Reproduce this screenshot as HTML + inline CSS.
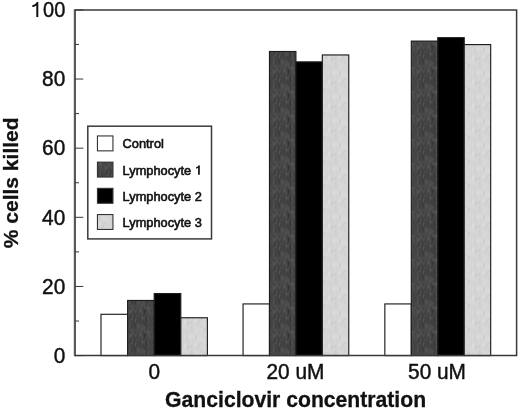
<!DOCTYPE html>
<html><head><meta charset="utf-8"><style>
html,body{margin:0;padding:0;background:#fff;}
svg{display:block;filter:grayscale(1);}
text{font-family:"Liberation Sans",sans-serif;fill:#111;}
.tl{font-size:21.5px;stroke:#111;stroke-width:0.45px;}
.ax{font-weight:bold;stroke:#111;stroke-width:0.3px;}
.lg{font-size:12.8px;stroke:#111;stroke-width:0.6px;}
.one{fill:#111;}
</style></head><body>
<svg width="520" height="408" viewBox="0 0 520 408">
<defs>
<pattern id="pL1" width="24" height="24" patternUnits="userSpaceOnUse">
<rect width="24" height="24" fill="#464646"/>
<rect x="0" y="0" width="1" height="1" fill="#393939"/>
<rect x="1" y="0" width="1" height="1" fill="#3d3d3d"/>
<rect x="4" y="0" width="2" height="1" fill="#4d4d4d"/>
<rect x="6" y="0" width="1" height="1" fill="#4b4b4b"/>
<rect x="7" y="0" width="1" height="1" fill="#454545"/>
<rect x="8" y="0" width="1" height="1" fill="#494949"/>
<rect x="9" y="0" width="1" height="1" fill="#535353"/>
<rect x="10" y="0" width="1" height="1" fill="#515151"/>
<rect x="11" y="0" width="1" height="1" fill="#4d4d4d"/>
<rect x="12" y="0" width="1" height="1" fill="#424242"/>
<rect x="13" y="0" width="1" height="1" fill="#404040"/>
<rect x="14" y="0" width="1" height="1" fill="#444444"/>
<rect x="15" y="0" width="1" height="1" fill="#4c4c4c"/>
<rect x="16" y="0" width="1" height="1" fill="#444444"/>
<rect x="17" y="0" width="1" height="1" fill="#3d3d3d"/>
<rect x="18" y="0" width="1" height="1" fill="#434343"/>
<rect x="19" y="0" width="2" height="1" fill="#484848"/>
<rect x="21" y="0" width="2" height="1" fill="#4b4b4b"/>
<rect x="23" y="0" width="1" height="1" fill="#414141"/>
<rect x="0" y="1" width="1" height="1" fill="#393939"/>
<rect x="1" y="1" width="1" height="1" fill="#404040"/>
<rect x="2" y="1" width="1" height="1" fill="#454545"/>
<rect x="3" y="1" width="1" height="1" fill="#434343"/>
<rect x="4" y="1" width="2" height="1" fill="#4a4a4a"/>
<rect x="6" y="1" width="1" height="1" fill="#4e4e4e"/>
<rect x="7" y="1" width="1" height="1" fill="#444444"/>
<rect x="8" y="1" width="1" height="1" fill="#4a4a4a"/>
<rect x="9" y="1" width="1" height="1" fill="#525252"/>
<rect x="10" y="1" width="2" height="1" fill="#494949"/>
<rect x="12" y="1" width="1" height="1" fill="#424242"/>
<rect x="13" y="1" width="1" height="1" fill="#3e3e3e"/>
<rect x="14" y="1" width="1" height="1" fill="#404040"/>
<rect x="15" y="1" width="1" height="1" fill="#454545"/>
<rect x="16" y="1" width="1" height="1" fill="#414141"/>
<rect x="17" y="1" width="1" height="1" fill="#3f3f3f"/>
<rect x="18" y="1" width="2" height="1" fill="#444444"/>
<rect x="20" y="1" width="1" height="1" fill="#424242"/>
<rect x="21" y="1" width="1" height="1" fill="#494949"/>
<rect x="22" y="1" width="1" height="1" fill="#4e4e4e"/>
<rect x="23" y="1" width="1" height="1" fill="#424242"/>
<rect x="0" y="2" width="1" height="1" fill="#3d3d3d"/>
<rect x="1" y="2" width="3" height="1" fill="#454545"/>
<rect x="4" y="2" width="2" height="1" fill="#474747"/>
<rect x="6" y="2" width="1" height="1" fill="#4b4b4b"/>
<rect x="7" y="2" width="1" height="1" fill="#434343"/>
<rect x="8" y="2" width="2" height="1" fill="#4c4c4c"/>
<rect x="10" y="2" width="1" height="1" fill="#3f3f3f"/>
<rect x="11" y="2" width="1" height="1" fill="#414141"/>
<rect x="12" y="2" width="1" height="1" fill="#474747"/>
<rect x="13" y="2" width="1" height="1" fill="#434343"/>
<rect x="14" y="2" width="1" height="1" fill="#3e3e3e"/>
<rect x="15" y="2" width="1" height="1" fill="#414141"/>
<rect x="16" y="2" width="2" height="1" fill="#434343"/>
<rect x="18" y="2" width="1" height="1" fill="#494949"/>
<rect x="20" y="2" width="1" height="1" fill="#3f3f3f"/>
<rect x="21" y="2" width="1" height="1" fill="#484848"/>
<rect x="22" y="2" width="1" height="1" fill="#4d4d4d"/>
<rect x="23" y="2" width="1" height="1" fill="#3f3f3f"/>
<rect x="0" y="3" width="1" height="1" fill="#414141"/>
<rect x="2" y="3" width="1" height="1" fill="#434343"/>
<rect x="3" y="3" width="2" height="1" fill="#484848"/>
<rect x="5" y="3" width="1" height="1" fill="#424242"/>
<rect x="8" y="3" width="1" height="1" fill="#4e4e4e"/>
<rect x="9" y="3" width="1" height="1" fill="#494949"/>
<rect x="10" y="3" width="1" height="1" fill="#383838"/>
<rect x="11" y="3" width="1" height="1" fill="#3c3c3c"/>
<rect x="12" y="3" width="1" height="1" fill="#4c4c4c"/>
<rect x="13" y="3" width="1" height="1" fill="#484848"/>
<rect x="14" y="3" width="1" height="1" fill="#3e3e3e"/>
<rect x="15" y="3" width="1" height="1" fill="#414141"/>
<rect x="17" y="3" width="1" height="1" fill="#494949"/>
<rect x="18" y="3" width="1" height="1" fill="#4b4b4b"/>
<rect x="20" y="3" width="1" height="1" fill="#3f3f3f"/>
<rect x="21" y="3" width="1" height="1" fill="#484848"/>
<rect x="22" y="3" width="1" height="1" fill="#4a4a4a"/>
<rect x="23" y="3" width="1" height="1" fill="#3e3e3e"/>
<rect x="0" y="4" width="1" height="1" fill="#474747"/>
<rect x="1" y="4" width="1" height="1" fill="#414141"/>
<rect x="2" y="4" width="1" height="1" fill="#3b3b3b"/>
<rect x="3" y="4" width="1" height="1" fill="#494949"/>
<rect x="4" y="4" width="1" height="1" fill="#4b4b4b"/>
<rect x="5" y="4" width="2" height="1" fill="#424242"/>
<rect x="7" y="4" width="1" height="1" fill="#484848"/>
<rect x="8" y="4" width="1" height="1" fill="#4b4b4b"/>
<rect x="9" y="4" width="1" height="1" fill="#454545"/>
<rect x="10" y="4" width="1" height="1" fill="#3a3a3a"/>
<rect x="11" y="4" width="1" height="1" fill="#3f3f3f"/>
<rect x="12" y="4" width="1" height="1" fill="#4d4d4d"/>
<rect x="13" y="4" width="1" height="1" fill="#494949"/>
<rect x="14" y="4" width="1" height="1" fill="#3e3e3e"/>
<rect x="15" y="4" width="1" height="1" fill="#424242"/>
<rect x="16" y="4" width="2" height="1" fill="#474747"/>
<rect x="18" y="4" width="1" height="1" fill="#494949"/>
<rect x="19" y="4" width="1" height="1" fill="#434343"/>
<rect x="20" y="4" width="1" height="1" fill="#404040"/>
<rect x="21" y="4" width="1" height="1" fill="#4b4b4b"/>
<rect x="22" y="4" width="1" height="1" fill="#494949"/>
<rect x="23" y="4" width="1" height="1" fill="#434343"/>
<rect x="0" y="5" width="1" height="1" fill="#4b4b4b"/>
<rect x="1" y="5" width="1" height="1" fill="#3d3d3d"/>
<rect x="2" y="5" width="1" height="1" fill="#373737"/>
<rect x="3" y="5" width="1" height="1" fill="#4a4a4a"/>
<rect x="4" y="5" width="1" height="1" fill="#505050"/>
<rect x="5" y="5" width="2" height="1" fill="#414141"/>
<rect x="7" y="5" width="1" height="1" fill="#474747"/>
<rect x="8" y="5" width="1" height="1" fill="#444444"/>
<rect x="9" y="5" width="2" height="1" fill="#3f3f3f"/>
<rect x="11" y="5" width="1" height="1" fill="#474747"/>
<rect x="12" y="5" width="1" height="1" fill="#494949"/>
<rect x="13" y="5" width="1" height="1" fill="#454545"/>
<rect x="14" y="5" width="1" height="1" fill="#3c3c3c"/>
<rect x="15" y="5" width="1" height="1" fill="#444444"/>
<rect x="16" y="5" width="1" height="1" fill="#484848"/>
<rect x="17" y="5" width="2" height="1" fill="#434343"/>
<rect x="19" y="5" width="1" height="1" fill="#404040"/>
<rect x="20" y="5" width="1" height="1" fill="#424242"/>
<rect x="21" y="5" width="1" height="1" fill="#4f4f4f"/>
<rect x="22" y="5" width="1" height="1" fill="#4d4d4d"/>
<rect x="23" y="5" width="1" height="1" fill="#4a4a4a"/>
<rect x="0" y="6" width="1" height="1" fill="#4a4a4a"/>
<rect x="1" y="6" width="2" height="1" fill="#3c3c3c"/>
<rect x="3" y="6" width="1" height="1" fill="#494949"/>
<rect x="4" y="6" width="1" height="1" fill="#4e4e4e"/>
<rect x="5" y="6" width="2" height="1" fill="#414141"/>
<rect x="7" y="6" width="1" height="1" fill="#454545"/>
<rect x="8" y="6" width="1" height="1" fill="#404040"/>
<rect x="9" y="6" width="1" height="1" fill="#3d3d3d"/>
<rect x="10" y="6" width="1" height="1" fill="#454545"/>
<rect x="11" y="6" width="1" height="1" fill="#4f4f4f"/>
<rect x="12" y="6" width="1" height="1" fill="#474747"/>
<rect x="13" y="6" width="1" height="1" fill="#424242"/>
<rect x="14" y="6" width="1" height="1" fill="#3c3c3c"/>
<rect x="15" y="6" width="2" height="1" fill="#4b4b4b"/>
<rect x="17" y="6" width="2" height="1" fill="#3f3f3f"/>
<rect x="19" y="6" width="2" height="1" fill="#414141"/>
<rect x="21" y="6" width="3" height="1" fill="#4e4e4e"/>
<rect x="1" y="7" width="1" height="1" fill="#3b3b3b"/>
<rect x="2" y="7" width="1" height="1" fill="#3e3e3e"/>
<rect x="3" y="7" width="1" height="1" fill="#454545"/>
<rect x="4" y="7" width="1" height="1" fill="#4b4b4b"/>
<rect x="5" y="7" width="1" height="1" fill="#454545"/>
<rect x="6" y="7" width="1" height="1" fill="#414141"/>
<rect x="7" y="7" width="2" height="1" fill="#444444"/>
<rect x="9" y="7" width="1" height="1" fill="#424242"/>
<rect x="11" y="7" width="1" height="1" fill="#505050"/>
<rect x="13" y="7" width="1" height="1" fill="#414141"/>
<rect x="14" y="7" width="1" height="1" fill="#3e3e3e"/>
<rect x="15" y="7" width="1" height="1" fill="#545454"/>
<rect x="16" y="7" width="1" height="1" fill="#4c4c4c"/>
<rect x="17" y="7" width="1" height="1" fill="#3d3d3d"/>
<rect x="18" y="7" width="3" height="1" fill="#404040"/>
<rect x="21" y="7" width="1" height="1" fill="#484848"/>
<rect x="22" y="7" width="2" height="1" fill="#4a4a4a"/>
<rect x="0" y="8" width="1" height="1" fill="#434343"/>
<rect x="1" y="8" width="1" height="1" fill="#3a3a3a"/>
<rect x="2" y="8" width="1" height="1" fill="#3f3f3f"/>
<rect x="3" y="8" width="1" height="1" fill="#414141"/>
<rect x="4" y="8" width="1" height="1" fill="#4b4b4b"/>
<rect x="5" y="8" width="1" height="1" fill="#484848"/>
<rect x="6" y="8" width="1" height="1" fill="#414141"/>
<rect x="7" y="8" width="1" height="1" fill="#434343"/>
<rect x="8" y="8" width="2" height="1" fill="#494949"/>
<rect x="10" y="8" width="1" height="1" fill="#434343"/>
<rect x="11" y="8" width="1" height="1" fill="#4b4b4b"/>
<rect x="12" y="8" width="1" height="1" fill="#434343"/>
<rect x="13" y="8" width="1" height="1" fill="#3f3f3f"/>
<rect x="14" y="8" width="1" height="1" fill="#424242"/>
<rect x="15" y="8" width="1" height="1" fill="#545454"/>
<rect x="17" y="8" width="1" height="1" fill="#3b3b3b"/>
<rect x="18" y="8" width="1" height="1" fill="#444444"/>
<rect x="19" y="8" width="1" height="1" fill="#424242"/>
<rect x="20" y="8" width="1" height="1" fill="#3c3c3c"/>
<rect x="21" y="8" width="1" height="1" fill="#444444"/>
<rect x="22" y="8" width="2" height="1" fill="#424242"/>
<rect x="0" y="9" width="1" height="1" fill="#414141"/>
<rect x="1" y="9" width="1" height="1" fill="#3c3c3c"/>
<rect x="2" y="9" width="2" height="1" fill="#3f3f3f"/>
<rect x="4" y="9" width="1" height="1" fill="#4c4c4c"/>
<rect x="5" y="9" width="1" height="1" fill="#484848"/>
<rect x="6" y="9" width="1" height="1" fill="#404040"/>
<rect x="7" y="9" width="1" height="1" fill="#434343"/>
<rect x="8" y="9" width="1" height="1" fill="#474747"/>
<rect x="9" y="9" width="1" height="1" fill="#494949"/>
<rect x="10" y="9" width="1" height="1" fill="#414141"/>
<rect x="12" y="9" width="1" height="1" fill="#424242"/>
<rect x="13" y="9" width="1" height="1" fill="#3e3e3e"/>
<rect x="14" y="9" width="1" height="1" fill="#444444"/>
<rect x="15" y="9" width="1" height="1" fill="#4d4d4d"/>
<rect x="16" y="9" width="1" height="1" fill="#414141"/>
<rect x="17" y="9" width="1" height="1" fill="#3b3b3b"/>
<rect x="18" y="9" width="1" height="1" fill="#474747"/>
<rect x="19" y="9" width="1" height="1" fill="#434343"/>
<rect x="20" y="9" width="1" height="1" fill="#3c3c3c"/>
<rect x="21" y="9" width="1" height="1" fill="#454545"/>
<rect x="22" y="9" width="1" height="1" fill="#3c3c3c"/>
<rect x="23" y="9" width="1" height="1" fill="#3a3a3a"/>
<rect x="0" y="10" width="1" height="1" fill="#404040"/>
<rect x="1" y="10" width="1" height="1" fill="#3d3d3d"/>
<rect x="2" y="10" width="2" height="1" fill="#414141"/>
<rect x="4" y="10" width="1" height="1" fill="#4e4e4e"/>
<rect x="5" y="10" width="1" height="1" fill="#454545"/>
<rect x="6" y="10" width="1" height="1" fill="#3e3e3e"/>
<rect x="7" y="10" width="1" height="1" fill="#434343"/>
<rect x="8" y="10" width="1" height="1" fill="#414141"/>
<rect x="9" y="10" width="1" height="1" fill="#4d4d4d"/>
<rect x="10" y="10" width="3" height="1" fill="#444444"/>
<rect x="13" y="10" width="1" height="1" fill="#3f3f3f"/>
<rect x="14" y="10" width="1" height="1" fill="#424242"/>
<rect x="15" y="10" width="1" height="1" fill="#474747"/>
<rect x="16" y="10" width="1" height="1" fill="#424242"/>
<rect x="17" y="10" width="1" height="1" fill="#3f3f3f"/>
<rect x="18" y="10" width="1" height="1" fill="#494949"/>
<rect x="19" y="10" width="1" height="1" fill="#454545"/>
<rect x="20" y="10" width="1" height="1" fill="#3e3e3e"/>
<rect x="21" y="10" width="1" height="1" fill="#474747"/>
<rect x="22" y="10" width="1" height="1" fill="#3d3d3d"/>
<rect x="23" y="10" width="1" height="1" fill="#3a3a3a"/>
<rect x="0" y="11" width="1" height="1" fill="#3f3f3f"/>
<rect x="1" y="11" width="1" height="1" fill="#3c3c3c"/>
<rect x="2" y="11" width="1" height="1" fill="#404040"/>
<rect x="3" y="11" width="1" height="1" fill="#454545"/>
<rect x="4" y="11" width="1" height="1" fill="#4d4d4d"/>
<rect x="5" y="11" width="1" height="1" fill="#434343"/>
<rect x="6" y="11" width="1" height="1" fill="#3f3f3f"/>
<rect x="7" y="11" width="1" height="1" fill="#444444"/>
<rect x="8" y="11" width="1" height="1" fill="#3f3f3f"/>
<rect x="9" y="11" width="1" height="1" fill="#515151"/>
<rect x="10" y="11" width="1" height="1" fill="#494949"/>
<rect x="11" y="11" width="1" height="1" fill="#424242"/>
<rect x="12" y="11" width="1" height="1" fill="#454545"/>
<rect x="13" y="11" width="1" height="1" fill="#404040"/>
<rect x="14" y="11" width="1" height="1" fill="#3d3d3d"/>
<rect x="15" y="11" width="1" height="1" fill="#444444"/>
<rect x="18" y="11" width="1" height="1" fill="#4c4c4c"/>
<rect x="19" y="11" width="1" height="1" fill="#484848"/>
<rect x="20" y="11" width="1" height="1" fill="#424242"/>
<rect x="21" y="11" width="1" height="1" fill="#484848"/>
<rect x="22" y="11" width="1" height="1" fill="#424242"/>
<rect x="23" y="11" width="1" height="1" fill="#404040"/>
<rect x="0" y="12" width="1" height="1" fill="#3f3f3f"/>
<rect x="1" y="12" width="1" height="1" fill="#3c3c3c"/>
<rect x="2" y="12" width="1" height="1" fill="#3f3f3f"/>
<rect x="4" y="12" width="1" height="1" fill="#484848"/>
<rect x="5" y="12" width="1" height="1" fill="#444444"/>
<rect x="6" y="12" width="1" height="1" fill="#404040"/>
<rect x="8" y="12" width="1" height="1" fill="#414141"/>
<rect x="9" y="12" width="1" height="1" fill="#4f4f4f"/>
<rect x="10" y="12" width="1" height="1" fill="#4b4b4b"/>
<rect x="11" y="12" width="1" height="1" fill="#414141"/>
<rect x="12" y="12" width="1" height="1" fill="#434343"/>
<rect x="13" y="12" width="1" height="1" fill="#404040"/>
<rect x="14" y="12" width="1" height="1" fill="#3b3b3b"/>
<rect x="15" y="12" width="1" height="1" fill="#404040"/>
<rect x="16" y="12" width="1" height="1" fill="#474747"/>
<rect x="17" y="12" width="1" height="1" fill="#4a4a4a"/>
<rect x="18" y="12" width="1" height="1" fill="#515151"/>
<rect x="19" y="12" width="1" height="1" fill="#4a4a4a"/>
<rect x="20" y="12" width="4" height="1" fill="#474747"/>
<rect x="0" y="13" width="2" height="1" fill="#434343"/>
<rect x="2" y="13" width="1" height="1" fill="#3c3c3c"/>
<rect x="3" y="13" width="2" height="1" fill="#434343"/>
<rect x="5" y="13" width="1" height="1" fill="#454545"/>
<rect x="6" y="13" width="1" height="1" fill="#3f3f3f"/>
<rect x="9" y="13" width="1" height="1" fill="#4b4b4b"/>
<rect x="10" y="13" width="1" height="1" fill="#494949"/>
<rect x="11" y="13" width="1" height="1" fill="#3e3e3e"/>
<rect x="12" y="13" width="1" height="1" fill="#404040"/>
<rect x="13" y="13" width="1" height="1" fill="#424242"/>
<rect x="14" y="13" width="2" height="1" fill="#3b3b3b"/>
<rect x="16" y="13" width="1" height="1" fill="#474747"/>
<rect x="17" y="13" width="1" height="1" fill="#4f4f4f"/>
<rect x="18" y="13" width="1" height="1" fill="#525252"/>
<rect x="19" y="13" width="1" height="1" fill="#4b4b4b"/>
<rect x="20" y="13" width="1" height="1" fill="#494949"/>
<rect x="21" y="13" width="1" height="1" fill="#454545"/>
<rect x="22" y="13" width="2" height="1" fill="#4a4a4a"/>
<rect x="0" y="14" width="2" height="1" fill="#494949"/>
<rect x="2" y="14" width="1" height="1" fill="#3c3c3c"/>
<rect x="3" y="14" width="2" height="1" fill="#424242"/>
<rect x="5" y="14" width="1" height="1" fill="#474747"/>
<rect x="6" y="14" width="1" height="1" fill="#414141"/>
<rect x="7" y="14" width="1" height="1" fill="#444444"/>
<rect x="8" y="14" width="1" height="1" fill="#484848"/>
<rect x="9" y="14" width="1" height="1" fill="#4c4c4c"/>
<rect x="10" y="14" width="1" height="1" fill="#4a4a4a"/>
<rect x="11" y="14" width="1" height="1" fill="#3b3b3b"/>
<rect x="12" y="14" width="1" height="1" fill="#404040"/>
<rect x="13" y="14" width="1" height="1" fill="#474747"/>
<rect x="14" y="14" width="1" height="1" fill="#3c3c3c"/>
<rect x="15" y="14" width="1" height="1" fill="#3a3a3a"/>
<rect x="16" y="14" width="1" height="1" fill="#484848"/>
<rect x="17" y="14" width="2" height="1" fill="#4f4f4f"/>
<rect x="19" y="14" width="1" height="1" fill="#4c4c4c"/>
<rect x="20" y="14" width="1" height="1" fill="#4a4a4a"/>
<rect x="21" y="14" width="1" height="1" fill="#474747"/>
<rect x="22" y="14" width="1" height="1" fill="#4c4c4c"/>
<rect x="23" y="14" width="1" height="1" fill="#4a4a4a"/>
<rect x="0" y="15" width="1" height="1" fill="#4c4c4c"/>
<rect x="1" y="15" width="1" height="1" fill="#494949"/>
<rect x="2" y="15" width="1" height="1" fill="#3d3d3d"/>
<rect x="5" y="15" width="1" height="1" fill="#494949"/>
<rect x="6" y="15" width="2" height="1" fill="#454545"/>
<rect x="8" y="15" width="1" height="1" fill="#494949"/>
<rect x="9" y="15" width="2" height="1" fill="#4d4d4d"/>
<rect x="11" y="15" width="1" height="1" fill="#3a3a3a"/>
<rect x="12" y="15" width="1" height="1" fill="#414141"/>
<rect x="13" y="15" width="1" height="1" fill="#4a4a4a"/>
<rect x="14" y="15" width="2" height="1" fill="#3d3d3d"/>
<rect x="17" y="15" width="2" height="1" fill="#4b4b4b"/>
<rect x="19" y="15" width="1" height="1" fill="#4d4d4d"/>
<rect x="20" y="15" width="1" height="1" fill="#494949"/>
<rect x="21" y="15" width="1" height="1" fill="#4c4c4c"/>
<rect x="22" y="15" width="1" height="1" fill="#4f4f4f"/>
<rect x="23" y="15" width="1" height="1" fill="#4c4c4c"/>
<rect x="0" y="16" width="1" height="1" fill="#4c4c4c"/>
<rect x="1" y="16" width="1" height="1" fill="#454545"/>
<rect x="2" y="16" width="1" height="1" fill="#3d3d3d"/>
<rect x="3" y="16" width="1" height="1" fill="#494949"/>
<rect x="4" y="16" width="4" height="1" fill="#474747"/>
<rect x="8" y="16" width="2" height="1" fill="#494949"/>
<rect x="10" y="16" width="1" height="1" fill="#4c4c4c"/>
<rect x="11" y="16" width="1" height="1" fill="#3e3e3e"/>
<rect x="12" y="16" width="1" height="1" fill="#444444"/>
<rect x="13" y="16" width="1" height="1" fill="#4a4a4a"/>
<rect x="14" y="16" width="1" height="1" fill="#404040"/>
<rect x="15" y="16" width="1" height="1" fill="#434343"/>
<rect x="17" y="16" width="1" height="1" fill="#484848"/>
<rect x="18" y="16" width="1" height="1" fill="#4b4b4b"/>
<rect x="19" y="16" width="1" height="1" fill="#4d4d4d"/>
<rect x="21" y="16" width="1" height="1" fill="#4e4e4e"/>
<rect x="22" y="16" width="1" height="1" fill="#515151"/>
<rect x="23" y="16" width="1" height="1" fill="#4c4c4c"/>
<rect x="0" y="17" width="1" height="1" fill="#4e4e4e"/>
<rect x="1" y="17" width="1" height="1" fill="#454545"/>
<rect x="2" y="17" width="1" height="1" fill="#3d3d3d"/>
<rect x="3" y="17" width="2" height="1" fill="#494949"/>
<rect x="5" y="17" width="2" height="1" fill="#434343"/>
<rect x="7" y="17" width="1" height="1" fill="#494949"/>
<rect x="8" y="17" width="1" height="1" fill="#474747"/>
<rect x="9" y="17" width="1" height="1" fill="#454545"/>
<rect x="10" y="17" width="1" height="1" fill="#4d4d4d"/>
<rect x="11" y="17" width="1" height="1" fill="#474747"/>
<rect x="12" y="17" width="2" height="1" fill="#494949"/>
<rect x="14" y="17" width="1" height="1" fill="#434343"/>
<rect x="15" y="17" width="1" height="1" fill="#474747"/>
<rect x="16" y="17" width="2" height="1" fill="#494949"/>
<rect x="18" y="17" width="1" height="1" fill="#4d4d4d"/>
<rect x="19" y="17" width="1" height="1" fill="#4b4b4b"/>
<rect x="20" y="17" width="1" height="1" fill="#454545"/>
<rect x="21" y="17" width="1" height="1" fill="#4c4c4c"/>
<rect x="22" y="17" width="1" height="1" fill="#4e4e4e"/>
<rect x="23" y="17" width="1" height="1" fill="#494949"/>
<rect x="0" y="18" width="1" height="1" fill="#505050"/>
<rect x="1" y="18" width="1" height="1" fill="#4b4b4b"/>
<rect x="2" y="18" width="1" height="1" fill="#424242"/>
<rect x="3" y="18" width="1" height="1" fill="#4c4c4c"/>
<rect x="4" y="18" width="1" height="1" fill="#4f4f4f"/>
<rect x="5" y="18" width="1" height="1" fill="#474747"/>
<rect x="6" y="18" width="1" height="1" fill="#454545"/>
<rect x="7" y="18" width="1" height="1" fill="#484848"/>
<rect x="8" y="18" width="1" height="1" fill="#454545"/>
<rect x="9" y="18" width="1" height="1" fill="#434343"/>
<rect x="10" y="18" width="3" height="1" fill="#4c4c4c"/>
<rect x="13" y="18" width="1" height="1" fill="#4a4a4a"/>
<rect x="14" y="18" width="1" height="1" fill="#454545"/>
<rect x="15" y="18" width="1" height="1" fill="#474747"/>
<rect x="16" y="18" width="2" height="1" fill="#4a4a4a"/>
<rect x="18" y="18" width="1" height="1" fill="#4e4e4e"/>
<rect x="19" y="18" width="1" height="1" fill="#4a4a4a"/>
<rect x="21" y="18" width="1" height="1" fill="#4a4a4a"/>
<rect x="22" y="18" width="1" height="1" fill="#484848"/>
<rect x="0" y="19" width="1" height="1" fill="#4c4c4c"/>
<rect x="1" y="19" width="1" height="1" fill="#515151"/>
<rect x="2" y="19" width="1" height="1" fill="#4a4a4a"/>
<rect x="3" y="19" width="1" height="1" fill="#515151"/>
<rect x="4" y="19" width="1" height="1" fill="#585858"/>
<rect x="5" y="19" width="3" height="1" fill="#4c4c4c"/>
<rect x="8" y="19" width="1" height="1" fill="#454545"/>
<rect x="9" y="19" width="1" height="1" fill="#414141"/>
<rect x="11" y="19" width="1" height="1" fill="#4c4c4c"/>
<rect x="12" y="19" width="1" height="1" fill="#4e4e4e"/>
<rect x="13" y="19" width="1" height="1" fill="#4c4c4c"/>
<rect x="14" y="19" width="1" height="1" fill="#474747"/>
<rect x="15" y="19" width="1" height="1" fill="#444444"/>
<rect x="16" y="19" width="1" height="1" fill="#484848"/>
<rect x="17" y="19" width="1" height="1" fill="#434343"/>
<rect x="18" y="19" width="3" height="1" fill="#494949"/>
<rect x="21" y="19" width="1" height="1" fill="#4c4c4c"/>
<rect x="22" y="19" width="1" height="1" fill="#444444"/>
<rect x="23" y="19" width="1" height="1" fill="#414141"/>
<rect x="0" y="20" width="1" height="1" fill="#444444"/>
<rect x="1" y="20" width="1" height="1" fill="#4e4e4e"/>
<rect x="2" y="20" width="1" height="1" fill="#4b4b4b"/>
<rect x="3" y="20" width="1" height="1" fill="#525252"/>
<rect x="4" y="20" width="1" height="1" fill="#5a5a5a"/>
<rect x="5" y="20" width="1" height="1" fill="#4e4e4e"/>
<rect x="6" y="20" width="2" height="1" fill="#4b4b4b"/>
<rect x="8" y="20" width="1" height="1" fill="#494949"/>
<rect x="9" y="20" width="2" height="1" fill="#414141"/>
<rect x="11" y="20" width="1" height="1" fill="#494949"/>
<rect x="12" y="20" width="1" height="1" fill="#4f4f4f"/>
<rect x="13" y="20" width="1" height="1" fill="#4d4d4d"/>
<rect x="14" y="20" width="1" height="1" fill="#484848"/>
<rect x="15" y="20" width="1" height="1" fill="#434343"/>
<rect x="16" y="20" width="1" height="1" fill="#484848"/>
<rect x="17" y="20" width="1" height="1" fill="#3f3f3f"/>
<rect x="18" y="20" width="1" height="1" fill="#444444"/>
<rect x="19" y="20" width="2" height="1" fill="#4c4c4c"/>
<rect x="21" y="20" width="1" height="1" fill="#4e4e4e"/>
<rect x="22" y="20" width="1" height="1" fill="#434343"/>
<rect x="23" y="20" width="1" height="1" fill="#404040"/>
<rect x="0" y="21" width="1" height="1" fill="#3c3c3c"/>
<rect x="1" y="21" width="1" height="1" fill="#434343"/>
<rect x="2" y="21" width="1" height="1" fill="#454545"/>
<rect x="3" y="21" width="1" height="1" fill="#4d4d4d"/>
<rect x="4" y="21" width="1" height="1" fill="#545454"/>
<rect x="5" y="21" width="1" height="1" fill="#4d4d4d"/>
<rect x="8" y="21" width="1" height="1" fill="#4d4d4d"/>
<rect x="9" y="21" width="1" height="1" fill="#474747"/>
<rect x="10" y="21" width="1" height="1" fill="#454545"/>
<rect x="11" y="21" width="1" height="1" fill="#4b4b4b"/>
<rect x="12" y="21" width="1" height="1" fill="#4f4f4f"/>
<rect x="13" y="21" width="1" height="1" fill="#4d4d4d"/>
<rect x="14" y="21" width="1" height="1" fill="#484848"/>
<rect x="16" y="21" width="1" height="1" fill="#4a4a4a"/>
<rect x="17" y="21" width="2" height="1" fill="#434343"/>
<rect x="19" y="21" width="1" height="1" fill="#4d4d4d"/>
<rect x="20" y="21" width="1" height="1" fill="#515151"/>
<rect x="21" y="21" width="1" height="1" fill="#4e4e4e"/>
<rect x="22" y="21" width="1" height="1" fill="#424242"/>
<rect x="23" y="21" width="1" height="1" fill="#404040"/>
<rect x="0" y="22" width="1" height="1" fill="#373737"/>
<rect x="1" y="22" width="1" height="1" fill="#3a3a3a"/>
<rect x="2" y="22" width="1" height="1" fill="#414141"/>
<rect x="3" y="22" width="1" height="1" fill="#4a4a4a"/>
<rect x="4" y="22" width="1" height="1" fill="#4e4e4e"/>
<rect x="5" y="22" width="1" height="1" fill="#4c4c4c"/>
<rect x="6" y="22" width="1" height="1" fill="#454545"/>
<rect x="7" y="22" width="1" height="1" fill="#434343"/>
<rect x="8" y="22" width="1" height="1" fill="#4c4c4c"/>
<rect x="9" y="22" width="3" height="1" fill="#505050"/>
<rect x="12" y="22" width="2" height="1" fill="#4b4b4b"/>
<rect x="14" y="22" width="1" height="1" fill="#474747"/>
<rect x="15" y="22" width="2" height="1" fill="#4c4c4c"/>
<rect x="17" y="22" width="2" height="1" fill="#454545"/>
<rect x="19" y="22" width="1" height="1" fill="#4d4d4d"/>
<rect x="20" y="22" width="1" height="1" fill="#525252"/>
<rect x="21" y="22" width="1" height="1" fill="#4f4f4f"/>
<rect x="22" y="22" width="1" height="1" fill="#434343"/>
<rect x="23" y="22" width="1" height="1" fill="#3d3d3d"/>
<rect x="0" y="23" width="1" height="1" fill="#373737"/>
<rect x="1" y="23" width="1" height="1" fill="#393939"/>
<rect x="2" y="23" width="1" height="1" fill="#444444"/>
<rect x="3" y="23" width="1" height="1" fill="#484848"/>
<rect x="4" y="23" width="2" height="1" fill="#4d4d4d"/>
<rect x="6" y="23" width="1" height="1" fill="#474747"/>
<rect x="7" y="23" width="1" height="1" fill="#444444"/>
<rect x="8" y="23" width="1" height="1" fill="#4a4a4a"/>
<rect x="9" y="23" width="2" height="1" fill="#535353"/>
<rect x="11" y="23" width="1" height="1" fill="#505050"/>
<rect x="15" y="23" width="1" height="1" fill="#4f4f4f"/>
<rect x="16" y="23" width="1" height="1" fill="#484848"/>
<rect x="17" y="23" width="1" height="1" fill="#404040"/>
<rect x="18" y="23" width="1" height="1" fill="#454545"/>
<rect x="19" y="23" width="1" height="1" fill="#4c4c4c"/>
<rect x="20" y="23" width="2" height="1" fill="#4f4f4f"/>
<rect x="22" y="23" width="1" height="1" fill="#474747"/>
<rect x="23" y="23" width="1" height="1" fill="#3d3d3d"/>
</pattern>
<pattern id="pL3" width="24" height="24" patternUnits="userSpaceOnUse">
<rect width="24" height="24" fill="#d5d5d5"/>
<rect x="0" y="0" width="2" height="1" fill="#d7d7d7"/>
<rect x="2" y="0" width="1" height="1" fill="#d4d4d4"/>
<rect x="3" y="0" width="1" height="1" fill="#cecece"/>
<rect x="4" y="0" width="1" height="1" fill="#d3d3d3"/>
<rect x="5" y="0" width="1" height="1" fill="#d8d8d8"/>
<rect x="6" y="0" width="1" height="1" fill="#d6d6d6"/>
<rect x="7" y="0" width="2" height="1" fill="#d8d8d8"/>
<rect x="16" y="0" width="2" height="1" fill="#d8d8d8"/>
<rect x="18" y="0" width="1" height="1" fill="#d4d4d4"/>
<rect x="19" y="0" width="1" height="1" fill="#d2d2d2"/>
<rect x="20" y="0" width="1" height="1" fill="#d6d6d6"/>
<rect x="21" y="0" width="3" height="1" fill="#dadada"/>
<rect x="0" y="1" width="1" height="1" fill="#d3d3d3"/>
<rect x="1" y="1" width="2" height="1" fill="#d8d8d8"/>
<rect x="3" y="1" width="1" height="1" fill="#cdcdcd"/>
<rect x="4" y="1" width="1" height="1" fill="#d1d1d1"/>
<rect x="5" y="1" width="2" height="1" fill="#d7d7d7"/>
<rect x="7" y="1" width="1" height="1" fill="#dadada"/>
<rect x="8" y="1" width="1" height="1" fill="#dcdcdc"/>
<rect x="9" y="1" width="1" height="1" fill="#d8d8d8"/>
<rect x="10" y="1" width="4" height="1" fill="#d6d6d6"/>
<rect x="14" y="1" width="2" height="1" fill="#d3d3d3"/>
<rect x="16" y="1" width="2" height="1" fill="#d8d8d8"/>
<rect x="18" y="1" width="1" height="1" fill="#d2d2d2"/>
<rect x="19" y="1" width="1" height="1" fill="#cfcfcf"/>
<rect x="20" y="1" width="1" height="1" fill="#d6d6d6"/>
<rect x="21" y="1" width="3" height="1" fill="#d9d9d9"/>
<rect x="0" y="2" width="1" height="1" fill="#d1d1d1"/>
<rect x="1" y="2" width="2" height="1" fill="#d8d8d8"/>
<rect x="3" y="2" width="1" height="1" fill="#cdcdcd"/>
<rect x="4" y="2" width="1" height="1" fill="#d1d1d1"/>
<rect x="5" y="2" width="2" height="1" fill="#d8d8d8"/>
<rect x="7" y="2" width="1" height="1" fill="#dbdbdb"/>
<rect x="8" y="2" width="1" height="1" fill="#dddddd"/>
<rect x="9" y="2" width="1" height="1" fill="#d9d9d9"/>
<rect x="10" y="2" width="1" height="1" fill="#d7d7d7"/>
<rect x="14" y="2" width="1" height="1" fill="#d2d2d2"/>
<rect x="16" y="2" width="1" height="1" fill="#d8d8d8"/>
<rect x="17" y="2" width="1" height="1" fill="#d4d4d4"/>
<rect x="18" y="2" width="1" height="1" fill="#d1d1d1"/>
<rect x="19" y="2" width="1" height="1" fill="#cecece"/>
<rect x="21" y="2" width="3" height="1" fill="#d8d8d8"/>
<rect x="0" y="3" width="1" height="1" fill="#d1d1d1"/>
<rect x="1" y="3" width="2" height="1" fill="#d6d6d6"/>
<rect x="3" y="3" width="1" height="1" fill="#cecece"/>
<rect x="4" y="3" width="1" height="1" fill="#d1d1d1"/>
<rect x="5" y="3" width="3" height="1" fill="#d9d9d9"/>
<rect x="8" y="3" width="2" height="1" fill="#dbdbdb"/>
<rect x="10" y="3" width="1" height="1" fill="#d8d8d8"/>
<rect x="12" y="3" width="1" height="1" fill="#d7d7d7"/>
<rect x="13" y="3" width="3" height="1" fill="#d4d4d4"/>
<rect x="16" y="3" width="1" height="1" fill="#d8d8d8"/>
<rect x="17" y="3" width="2" height="1" fill="#d3d3d3"/>
<rect x="19" y="3" width="1" height="1" fill="#d0d0d0"/>
<rect x="20" y="3" width="1" height="1" fill="#d4d4d4"/>
<rect x="21" y="3" width="2" height="1" fill="#d8d8d8"/>
<rect x="23" y="3" width="1" height="1" fill="#d6d6d6"/>
<rect x="0" y="4" width="1" height="1" fill="#d1d1d1"/>
<rect x="1" y="4" width="2" height="1" fill="#d4d4d4"/>
<rect x="3" y="4" width="2" height="1" fill="#d2d2d2"/>
<rect x="5" y="4" width="2" height="1" fill="#d6d6d6"/>
<rect x="7" y="4" width="6" height="1" fill="#d8d8d8"/>
<rect x="13" y="4" width="3" height="1" fill="#d4d4d4"/>
<rect x="16" y="4" width="1" height="1" fill="#d8d8d8"/>
<rect x="17" y="4" width="1" height="1" fill="#d3d3d3"/>
<rect x="18" y="4" width="1" height="1" fill="#d6d6d6"/>
<rect x="19" y="4" width="1" height="1" fill="#d1d1d1"/>
<rect x="20" y="4" width="1" height="1" fill="#d3d3d3"/>
<rect x="21" y="4" width="2" height="1" fill="#d8d8d8"/>
<rect x="23" y="4" width="1" height="1" fill="#d6d6d6"/>
<rect x="0" y="5" width="2" height="1" fill="#d2d2d2"/>
<rect x="2" y="5" width="1" height="1" fill="#d4d4d4"/>
<rect x="3" y="5" width="3" height="1" fill="#d6d6d6"/>
<rect x="6" y="5" width="2" height="1" fill="#d4d4d4"/>
<rect x="8" y="5" width="1" height="1" fill="#d2d2d2"/>
<rect x="9" y="5" width="2" height="1" fill="#d6d6d6"/>
<rect x="11" y="5" width="1" height="1" fill="#d8d8d8"/>
<rect x="12" y="5" width="1" height="1" fill="#dbdbdb"/>
<rect x="16" y="5" width="1" height="1" fill="#d7d7d7"/>
<rect x="17" y="5" width="2" height="1" fill="#d4d4d4"/>
<rect x="19" y="5" width="1" height="1" fill="#d0d0d0"/>
<rect x="20" y="5" width="1" height="1" fill="#d3d3d3"/>
<rect x="21" y="5" width="3" height="1" fill="#d6d6d6"/>
<rect x="0" y="6" width="3" height="1" fill="#d3d3d3"/>
<rect x="3" y="6" width="1" height="1" fill="#dadada"/>
<rect x="4" y="6" width="1" height="1" fill="#d8d8d8"/>
<rect x="8" y="6" width="1" height="1" fill="#d0d0d0"/>
<rect x="9" y="6" width="2" height="1" fill="#d3d3d3"/>
<rect x="11" y="6" width="1" height="1" fill="#d8d8d8"/>
<rect x="12" y="6" width="1" height="1" fill="#dadada"/>
<rect x="13" y="6" width="2" height="1" fill="#d6d6d6"/>
<rect x="15" y="6" width="2" height="1" fill="#d4d4d4"/>
<rect x="17" y="6" width="2" height="1" fill="#d6d6d6"/>
<rect x="19" y="6" width="1" height="1" fill="#d0d0d0"/>
<rect x="20" y="6" width="2" height="1" fill="#d3d3d3"/>
<rect x="22" y="6" width="1" height="1" fill="#d6d6d6"/>
<rect x="23" y="6" width="1" height="1" fill="#d8d8d8"/>
<rect x="3" y="7" width="1" height="1" fill="#dbdbdb"/>
<rect x="4" y="7" width="1" height="1" fill="#d9d9d9"/>
<rect x="7" y="7" width="1" height="1" fill="#d2d2d2"/>
<rect x="8" y="7" width="1" height="1" fill="#d0d0d0"/>
<rect x="9" y="7" width="2" height="1" fill="#d3d3d3"/>
<rect x="11" y="7" width="1" height="1" fill="#d7d7d7"/>
<rect x="12" y="7" width="1" height="1" fill="#dadada"/>
<rect x="14" y="7" width="1" height="1" fill="#d1d1d1"/>
<rect x="15" y="7" width="1" height="1" fill="#d3d3d3"/>
<rect x="16" y="7" width="1" height="1" fill="#d6d6d6"/>
<rect x="17" y="7" width="1" height="1" fill="#dadada"/>
<rect x="18" y="7" width="1" height="1" fill="#d7d7d7"/>
<rect x="19" y="7" width="1" height="1" fill="#d2d2d2"/>
<rect x="20" y="7" width="1" height="1" fill="#d4d4d4"/>
<rect x="21" y="7" width="1" height="1" fill="#d2d2d2"/>
<rect x="22" y="7" width="1" height="1" fill="#d6d6d6"/>
<rect x="23" y="7" width="1" height="1" fill="#d8d8d8"/>
<rect x="0" y="8" width="1" height="1" fill="#d3d3d3"/>
<rect x="1" y="8" width="1" height="1" fill="#d6d6d6"/>
<rect x="2" y="8" width="1" height="1" fill="#d8d8d8"/>
<rect x="3" y="8" width="2" height="1" fill="#dbdbdb"/>
<rect x="7" y="8" width="1" height="1" fill="#cfcfcf"/>
<rect x="8" y="8" width="1" height="1" fill="#d2d2d2"/>
<rect x="12" y="8" width="1" height="1" fill="#d9d9d9"/>
<rect x="13" y="8" width="1" height="1" fill="#d4d4d4"/>
<rect x="14" y="8" width="1" height="1" fill="#d0d0d0"/>
<rect x="15" y="8" width="1" height="1" fill="#d4d4d4"/>
<rect x="16" y="8" width="1" height="1" fill="#dadada"/>
<rect x="17" y="8" width="1" height="1" fill="#dcdcdc"/>
<rect x="18" y="8" width="1" height="1" fill="#d7d7d7"/>
<rect x="19" y="8" width="1" height="1" fill="#d4d4d4"/>
<rect x="20" y="8" width="2" height="1" fill="#d2d2d2"/>
<rect x="0" y="9" width="1" height="1" fill="#d0d0d0"/>
<rect x="1" y="9" width="1" height="1" fill="#d7d7d7"/>
<rect x="2" y="9" width="3" height="1" fill="#d9d9d9"/>
<rect x="6" y="9" width="1" height="1" fill="#d1d1d1"/>
<rect x="7" y="9" width="1" height="1" fill="#cdcdcd"/>
<rect x="8" y="9" width="1" height="1" fill="#d4d4d4"/>
<rect x="9" y="9" width="1" height="1" fill="#d8d8d8"/>
<rect x="11" y="9" width="1" height="1" fill="#d3d3d3"/>
<rect x="12" y="9" width="1" height="1" fill="#d7d7d7"/>
<rect x="13" y="9" width="1" height="1" fill="#d3d3d3"/>
<rect x="14" y="9" width="1" height="1" fill="#d1d1d1"/>
<rect x="15" y="9" width="1" height="1" fill="#d7d7d7"/>
<rect x="16" y="9" width="2" height="1" fill="#dddddd"/>
<rect x="18" y="9" width="1" height="1" fill="#d6d6d6"/>
<rect x="19" y="9" width="1" height="1" fill="#d2d2d2"/>
<rect x="20" y="9" width="1" height="1" fill="#d0d0d0"/>
<rect x="21" y="9" width="2" height="1" fill="#d2d2d2"/>
<rect x="23" y="9" width="1" height="1" fill="#d0d0d0"/>
<rect x="0" y="10" width="1" height="1" fill="#cfcfcf"/>
<rect x="1" y="10" width="4" height="1" fill="#d6d6d6"/>
<rect x="5" y="10" width="1" height="1" fill="#d3d3d3"/>
<rect x="6" y="10" width="1" height="1" fill="#cfcfcf"/>
<rect x="7" y="10" width="1" height="1" fill="#cdcdcd"/>
<rect x="8" y="10" width="1" height="1" fill="#d4d4d4"/>
<rect x="9" y="10" width="1" height="1" fill="#d9d9d9"/>
<rect x="10" y="10" width="1" height="1" fill="#d6d6d6"/>
<rect x="11" y="10" width="1" height="1" fill="#d4d4d4"/>
<rect x="12" y="10" width="1" height="1" fill="#d6d6d6"/>
<rect x="13" y="10" width="2" height="1" fill="#d3d3d3"/>
<rect x="15" y="10" width="1" height="1" fill="#d8d8d8"/>
<rect x="16" y="10" width="2" height="1" fill="#dddddd"/>
<rect x="19" y="10" width="2" height="1" fill="#cfcfcf"/>
<rect x="21" y="10" width="2" height="1" fill="#d1d1d1"/>
<rect x="23" y="10" width="1" height="1" fill="#cdcdcd"/>
<rect x="0" y="11" width="1" height="1" fill="#d0d0d0"/>
<rect x="1" y="11" width="1" height="1" fill="#d4d4d4"/>
<rect x="2" y="11" width="2" height="1" fill="#d6d6d6"/>
<rect x="4" y="11" width="2" height="1" fill="#d3d3d3"/>
<rect x="6" y="11" width="2" height="1" fill="#d1d1d1"/>
<rect x="8" y="11" width="1" height="1" fill="#d3d3d3"/>
<rect x="9" y="11" width="4" height="1" fill="#d7d7d7"/>
<rect x="14" y="11" width="2" height="1" fill="#d7d7d7"/>
<rect x="16" y="11" width="1" height="1" fill="#dadada"/>
<rect x="17" y="11" width="1" height="1" fill="#dcdcdc"/>
<rect x="19" y="11" width="1" height="1" fill="#cdcdcd"/>
<rect x="20" y="11" width="1" height="1" fill="#cfcfcf"/>
<rect x="21" y="11" width="1" height="1" fill="#d3d3d3"/>
<rect x="22" y="11" width="1" height="1" fill="#d1d1d1"/>
<rect x="23" y="11" width="1" height="1" fill="#cfcfcf"/>
<rect x="0" y="12" width="1" height="1" fill="#d2d2d2"/>
<rect x="4" y="12" width="2" height="1" fill="#d2d2d2"/>
<rect x="6" y="12" width="2" height="1" fill="#d4d4d4"/>
<rect x="8" y="12" width="1" height="1" fill="#d1d1d1"/>
<rect x="9" y="12" width="1" height="1" fill="#d3d3d3"/>
<rect x="10" y="12" width="2" height="1" fill="#d6d6d6"/>
<rect x="12" y="12" width="1" height="1" fill="#dadada"/>
<rect x="13" y="12" width="3" height="1" fill="#d7d7d7"/>
<rect x="16" y="12" width="1" height="1" fill="#d9d9d9"/>
<rect x="17" y="12" width="1" height="1" fill="#dbdbdb"/>
<rect x="19" y="12" width="1" height="1" fill="#cecece"/>
<rect x="20" y="12" width="1" height="1" fill="#d1d1d1"/>
<rect x="21" y="12" width="1" height="1" fill="#d6d6d6"/>
<rect x="22" y="12" width="1" height="1" fill="#d4d4d4"/>
<rect x="23" y="12" width="1" height="1" fill="#d1d1d1"/>
<rect x="0" y="13" width="1" height="1" fill="#d3d3d3"/>
<rect x="1" y="13" width="3" height="1" fill="#d6d6d6"/>
<rect x="4" y="13" width="3" height="1" fill="#d4d4d4"/>
<rect x="7" y="13" width="1" height="1" fill="#d7d7d7"/>
<rect x="8" y="13" width="2" height="1" fill="#d1d1d1"/>
<rect x="10" y="13" width="2" height="1" fill="#d6d6d6"/>
<rect x="12" y="13" width="1" height="1" fill="#dadada"/>
<rect x="13" y="13" width="3" height="1" fill="#d7d7d7"/>
<rect x="16" y="13" width="2" height="1" fill="#d9d9d9"/>
<rect x="18" y="13" width="1" height="1" fill="#d6d6d6"/>
<rect x="19" y="13" width="1" height="1" fill="#d2d2d2"/>
<rect x="20" y="13" width="1" height="1" fill="#d4d4d4"/>
<rect x="21" y="13" width="1" height="1" fill="#d8d8d8"/>
<rect x="22" y="13" width="1" height="1" fill="#d6d6d6"/>
<rect x="23" y="13" width="1" height="1" fill="#d2d2d2"/>
<rect x="0" y="14" width="1" height="1" fill="#d2d2d2"/>
<rect x="1" y="14" width="4" height="1" fill="#d6d6d6"/>
<rect x="5" y="14" width="2" height="1" fill="#d4d4d4"/>
<rect x="7" y="14" width="1" height="1" fill="#d6d6d6"/>
<rect x="8" y="14" width="2" height="1" fill="#d2d2d2"/>
<rect x="10" y="14" width="2" height="1" fill="#d6d6d6"/>
<rect x="12" y="14" width="1" height="1" fill="#d9d9d9"/>
<rect x="13" y="14" width="3" height="1" fill="#d6d6d6"/>
<rect x="16" y="14" width="3" height="1" fill="#d9d9d9"/>
<rect x="19" y="14" width="2" height="1" fill="#d4d4d4"/>
<rect x="21" y="14" width="1" height="1" fill="#d7d7d7"/>
<rect x="23" y="14" width="1" height="1" fill="#d1d1d1"/>
<rect x="0" y="15" width="1" height="1" fill="#d1d1d1"/>
<rect x="1" y="15" width="1" height="1" fill="#d6d6d6"/>
<rect x="2" y="15" width="4" height="1" fill="#d8d8d8"/>
<rect x="6" y="15" width="1" height="1" fill="#d4d4d4"/>
<rect x="7" y="15" width="1" height="1" fill="#d6d6d6"/>
<rect x="8" y="15" width="1" height="1" fill="#d3d3d3"/>
<rect x="9" y="15" width="1" height="1" fill="#d1d1d1"/>
<rect x="10" y="15" width="2" height="1" fill="#d4d4d4"/>
<rect x="12" y="15" width="1" height="1" fill="#d6d6d6"/>
<rect x="13" y="15" width="1" height="1" fill="#d3d3d3"/>
<rect x="14" y="15" width="1" height="1" fill="#d6d6d6"/>
<rect x="15" y="15" width="4" height="1" fill="#d8d8d8"/>
<rect x="21" y="15" width="1" height="1" fill="#d7d7d7"/>
<rect x="22" y="15" width="1" height="1" fill="#d4d4d4"/>
<rect x="23" y="15" width="1" height="1" fill="#cfcfcf"/>
<rect x="0" y="16" width="1" height="1" fill="#d2d2d2"/>
<rect x="1" y="16" width="3" height="1" fill="#d6d6d6"/>
<rect x="4" y="16" width="1" height="1" fill="#d9d9d9"/>
<rect x="5" y="16" width="3" height="1" fill="#d7d7d7"/>
<rect x="11" y="16" width="3" height="1" fill="#d2d2d2"/>
<rect x="17" y="16" width="2" height="1" fill="#d7d7d7"/>
<rect x="19" y="16" width="2" height="1" fill="#d4d4d4"/>
<rect x="21" y="16" width="1" height="1" fill="#d8d8d8"/>
<rect x="22" y="16" width="1" height="1" fill="#d3d3d3"/>
<rect x="23" y="16" width="1" height="1" fill="#cecece"/>
<rect x="0" y="17" width="1" height="1" fill="#d2d2d2"/>
<rect x="3" y="17" width="1" height="1" fill="#d7d7d7"/>
<rect x="4" y="17" width="1" height="1" fill="#dadada"/>
<rect x="5" y="17" width="6" height="1" fill="#d7d7d7"/>
<rect x="11" y="17" width="3" height="1" fill="#d0d0d0"/>
<rect x="14" y="17" width="2" height="1" fill="#d4d4d4"/>
<rect x="16" y="17" width="1" height="1" fill="#d1d1d1"/>
<rect x="17" y="17" width="1" height="1" fill="#d4d4d4"/>
<rect x="18" y="17" width="2" height="1" fill="#d6d6d6"/>
<rect x="20" y="17" width="1" height="1" fill="#d4d4d4"/>
<rect x="21" y="17" width="1" height="1" fill="#d9d9d9"/>
<rect x="22" y="17" width="1" height="1" fill="#d2d2d2"/>
<rect x="23" y="17" width="1" height="1" fill="#cecece"/>
<rect x="0" y="18" width="1" height="1" fill="#d1d1d1"/>
<rect x="1" y="18" width="1" height="1" fill="#d4d4d4"/>
<rect x="2" y="18" width="2" height="1" fill="#d6d6d6"/>
<rect x="4" y="18" width="2" height="1" fill="#dadada"/>
<rect x="9" y="18" width="1" height="1" fill="#d9d9d9"/>
<rect x="10" y="18" width="1" height="1" fill="#d7d7d7"/>
<rect x="11" y="18" width="1" height="1" fill="#d1d1d1"/>
<rect x="12" y="18" width="1" height="1" fill="#cecece"/>
<rect x="13" y="18" width="1" height="1" fill="#d0d0d0"/>
<rect x="14" y="18" width="5" height="1" fill="#d4d4d4"/>
<rect x="19" y="18" width="1" height="1" fill="#d6d6d6"/>
<rect x="20" y="18" width="1" height="1" fill="#d3d3d3"/>
<rect x="21" y="18" width="1" height="1" fill="#d7d7d7"/>
<rect x="22" y="18" width="1" height="1" fill="#d1d1d1"/>
<rect x="23" y="18" width="1" height="1" fill="#cfcfcf"/>
<rect x="0" y="19" width="1" height="1" fill="#d2d2d2"/>
<rect x="1" y="19" width="1" height="1" fill="#d4d4d4"/>
<rect x="2" y="19" width="4" height="1" fill="#d8d8d8"/>
<rect x="9" y="19" width="2" height="1" fill="#d7d7d7"/>
<rect x="11" y="19" width="1" height="1" fill="#d3d3d3"/>
<rect x="12" y="19" width="1" height="1" fill="#cecece"/>
<rect x="13" y="19" width="1" height="1" fill="#d2d2d2"/>
<rect x="16" y="19" width="1" height="1" fill="#d7d7d7"/>
<rect x="17" y="19" width="4" height="1" fill="#d3d3d3"/>
<rect x="21" y="19" width="1" height="1" fill="#d6d6d6"/>
<rect x="22" y="19" width="2" height="1" fill="#d1d1d1"/>
<rect x="0" y="20" width="2" height="1" fill="#d4d4d4"/>
<rect x="2" y="20" width="2" height="1" fill="#d9d9d9"/>
<rect x="4" y="20" width="2" height="1" fill="#d7d7d7"/>
<rect x="6" y="20" width="1" height="1" fill="#d4d4d4"/>
<rect x="7" y="20" width="2" height="1" fill="#d2d2d2"/>
<rect x="10" y="20" width="1" height="1" fill="#d7d7d7"/>
<rect x="11" y="20" width="1" height="1" fill="#d3d3d3"/>
<rect x="12" y="20" width="1" height="1" fill="#d0d0d0"/>
<rect x="13" y="20" width="2" height="1" fill="#d6d6d6"/>
<rect x="15" y="20" width="1" height="1" fill="#d4d4d4"/>
<rect x="16" y="20" width="1" height="1" fill="#d6d6d6"/>
<rect x="17" y="20" width="1" height="1" fill="#d2d2d2"/>
<rect x="18" y="20" width="1" height="1" fill="#d0d0d0"/>
<rect x="19" y="20" width="2" height="1" fill="#d2d2d2"/>
<rect x="21" y="20" width="1" height="1" fill="#d6d6d6"/>
<rect x="22" y="20" width="2" height="1" fill="#d3d3d3"/>
<rect x="0" y="21" width="1" height="1" fill="#d7d7d7"/>
<rect x="2" y="21" width="2" height="1" fill="#d8d8d8"/>
<rect x="5" y="21" width="1" height="1" fill="#d8d8d8"/>
<rect x="7" y="21" width="2" height="1" fill="#d3d3d3"/>
<rect x="12" y="21" width="1" height="1" fill="#d3d3d3"/>
<rect x="13" y="21" width="1" height="1" fill="#d8d8d8"/>
<rect x="14" y="21" width="1" height="1" fill="#d6d6d6"/>
<rect x="15" y="21" width="2" height="1" fill="#d4d4d4"/>
<rect x="17" y="21" width="2" height="1" fill="#d0d0d0"/>
<rect x="19" y="21" width="2" height="1" fill="#d2d2d2"/>
<rect x="21" y="21" width="2" height="1" fill="#d7d7d7"/>
<rect x="23" y="21" width="1" height="1" fill="#d4d4d4"/>
<rect x="0" y="22" width="1" height="1" fill="#d8d8d8"/>
<rect x="4" y="22" width="1" height="1" fill="#d3d3d3"/>
<rect x="5" y="22" width="1" height="1" fill="#d9d9d9"/>
<rect x="6" y="22" width="3" height="1" fill="#d6d6d6"/>
<rect x="9" y="22" width="3" height="1" fill="#d4d4d4"/>
<rect x="12" y="22" width="1" height="1" fill="#d6d6d6"/>
<rect x="13" y="22" width="1" height="1" fill="#d9d9d9"/>
<rect x="14" y="22" width="1" height="1" fill="#d6d6d6"/>
<rect x="15" y="22" width="2" height="1" fill="#d4d4d4"/>
<rect x="17" y="22" width="2" height="1" fill="#d2d2d2"/>
<rect x="19" y="22" width="2" height="1" fill="#d4d4d4"/>
<rect x="21" y="22" width="2" height="1" fill="#d8d8d8"/>
<rect x="23" y="22" width="1" height="1" fill="#d6d6d6"/>
<rect x="0" y="23" width="1" height="1" fill="#d9d9d9"/>
<rect x="2" y="23" width="1" height="1" fill="#d3d3d3"/>
<rect x="3" y="23" width="1" height="1" fill="#d1d1d1"/>
<rect x="4" y="23" width="1" height="1" fill="#d4d4d4"/>
<rect x="5" y="23" width="1" height="1" fill="#d9d9d9"/>
<rect x="6" y="23" width="3" height="1" fill="#d6d6d6"/>
<rect x="9" y="23" width="3" height="1" fill="#d4d4d4"/>
<rect x="12" y="23" width="3" height="1" fill="#d6d6d6"/>
<rect x="15" y="23" width="1" height="1" fill="#d4d4d4"/>
<rect x="16" y="23" width="3" height="1" fill="#d6d6d6"/>
<rect x="19" y="23" width="2" height="1" fill="#d4d4d4"/>
<rect x="21" y="23" width="3" height="1" fill="#d9d9d9"/>
</pattern>
</defs>
<rect width="520" height="408" fill="#fff"/>
<rect x="101.00" y="314.30" width="26.60" height="41.30" fill="#ffffff" stroke="#1e1e1e" stroke-width="1.15"/>
<rect x="127.60" y="300.47" width="26.60" height="55.13" fill="url(#pL1)" stroke="#1e1e1e" stroke-width="1.15"/>
<rect x="154.20" y="293.56" width="26.60" height="62.04" fill="#000000" stroke="#1e1e1e" stroke-width="1.15"/>
<rect x="180.80" y="317.76" width="26.60" height="37.84" fill="url(#pL3)" stroke="#1e1e1e" stroke-width="1.15"/>
<rect x="243.05" y="303.93" width="26.43" height="51.67" fill="#ffffff" stroke="#1e1e1e" stroke-width="1.15"/>
<rect x="269.48" y="51.50" width="26.43" height="304.10" fill="url(#pL1)" stroke="#1e1e1e" stroke-width="1.15"/>
<rect x="295.91" y="61.87" width="26.43" height="293.73" fill="#000000" stroke="#1e1e1e" stroke-width="1.15"/>
<rect x="322.34" y="54.95" width="26.43" height="300.65" fill="url(#pL3)" stroke="#1e1e1e" stroke-width="1.15"/>
<rect x="384.85" y="303.93" width="26.46" height="51.67" fill="#ffffff" stroke="#1e1e1e" stroke-width="1.15"/>
<rect x="411.31" y="41.12" width="26.46" height="314.48" fill="url(#pL1)" stroke="#1e1e1e" stroke-width="1.15"/>
<rect x="437.77" y="37.66" width="26.46" height="317.94" fill="#000000" stroke="#1e1e1e" stroke-width="1.15"/>
<rect x="464.23" y="44.58" width="26.46" height="311.02" fill="url(#pL3)" stroke="#1e1e1e" stroke-width="1.15"/>
<path d="M74.9 9.9 H516.6 V355.5 H74.9" fill="none" stroke="#383838" stroke-width="1.5"/>
<line x1="74.9" y1="9.2" x2="74.9" y2="356.2" stroke="#585858" stroke-width="2.2"/>
<line x1="75" y1="355.60" x2="83.3" y2="355.60" stroke="#383838" stroke-width="1.0"/>
<line x1="75" y1="321.03" x2="79" y2="321.03" stroke="#383838" stroke-width="1.0"/>
<line x1="75" y1="286.46" x2="83.3" y2="286.46" stroke="#383838" stroke-width="1.0"/>
<line x1="75" y1="251.89" x2="79" y2="251.89" stroke="#383838" stroke-width="1.0"/>
<line x1="75" y1="217.32" x2="83.3" y2="217.32" stroke="#383838" stroke-width="1.0"/>
<line x1="75" y1="182.75" x2="79" y2="182.75" stroke="#383838" stroke-width="1.0"/>
<line x1="75" y1="148.18" x2="83.3" y2="148.18" stroke="#383838" stroke-width="1.0"/>
<line x1="75" y1="113.61" x2="79" y2="113.61" stroke="#383838" stroke-width="1.0"/>
<line x1="75" y1="79.04" x2="83.3" y2="79.04" stroke="#383838" stroke-width="1.0"/>
<line x1="75" y1="44.47" x2="79" y2="44.47" stroke="#383838" stroke-width="1.0"/>
<line x1="75" y1="9.90" x2="83.3" y2="9.90" stroke="#383838" stroke-width="1.0"/>
<text transform="translate(65.3,363) scale(0.97,1)" text-anchor="end" class="tl">0</text>
<text transform="translate(65.3,294) scale(0.97,1)" text-anchor="end" class="tl">20</text>
<text transform="translate(65.3,225) scale(0.97,1)" text-anchor="end" class="tl">40</text>
<text transform="translate(65.3,155) scale(0.97,1)" text-anchor="end" class="tl">60</text>
<text transform="translate(65.3,86) scale(0.97,1)" text-anchor="end" class="tl">80</text>
<text transform="translate(65.3,17) scale(0.93,1)" text-anchor="end" class="tl">00</text>
<path class="one" d="M38.3 17.1 L38.3 1.9 L36.8 1.9 C36.3 3.4 34.6 4.6 32.3 5.2 L32.3 7.0 C34.0 6.8 35.4 6.2 36.3 5.4 L36.3 17.1 Z"/>
<text transform="translate(154.4,379) scale(0.97,1)" text-anchor="middle" class="tl">0</text>
<text transform="translate(295.4,379) scale(0.97,1)" text-anchor="middle" class="tl">20 uM</text>
<text transform="translate(437,379) scale(0.97,1)" text-anchor="middle" class="tl">50 uM</text>
<text x="295.6" y="406.6" text-anchor="middle" class="ax" style="font-size:21.5px" textLength="261" lengthAdjust="spacingAndGlyphs">Ganciclovir concentration</text>
<text transform="translate(18.4,182.8) rotate(-90)" text-anchor="middle" class="ax" style="font-size:21px">% cells killed</text>
<rect x="87.8" y="126.2" width="123.7" height="112.7" fill="#fff" stroke="#3a3a3a" stroke-width="1.5"/>
<rect x="97.45" y="135.95" width="15.5" height="14.9" fill="#fff" stroke="#333" stroke-width="1.1"/>
<rect x="97.45" y="162.15" width="15.5" height="14.9" fill="url(#pL1)" stroke="#333" stroke-width="1.1"/>
<rect x="97.45" y="188.35" width="15.5" height="14.9" fill="#000" stroke="#333" stroke-width="1.1"/>
<rect x="97.45" y="214.55" width="15.5" height="14.9" fill="url(#pL3)" stroke="#333" stroke-width="1.1"/>
<text x="122.6" y="148" class="lg">Control</text>
<text x="122.6" y="175" class="lg">Lymphocyte </text>
<path class="one" d="M199.8 174.7 L199.8 165.3 L198.7 165.3 C198.3 166.4 197.3 167.0 196.0 167.3 L196.0 168.7 C197.0 168.5 197.6 168.2 198.1 167.8 L198.1 174.7 Z"/>
<text x="122.6" y="201" class="lg">Lymphocyte 2</text>
<text x="122.6" y="227.4" class="lg">Lymphocyte 3</text>
</svg>
</body></html>
